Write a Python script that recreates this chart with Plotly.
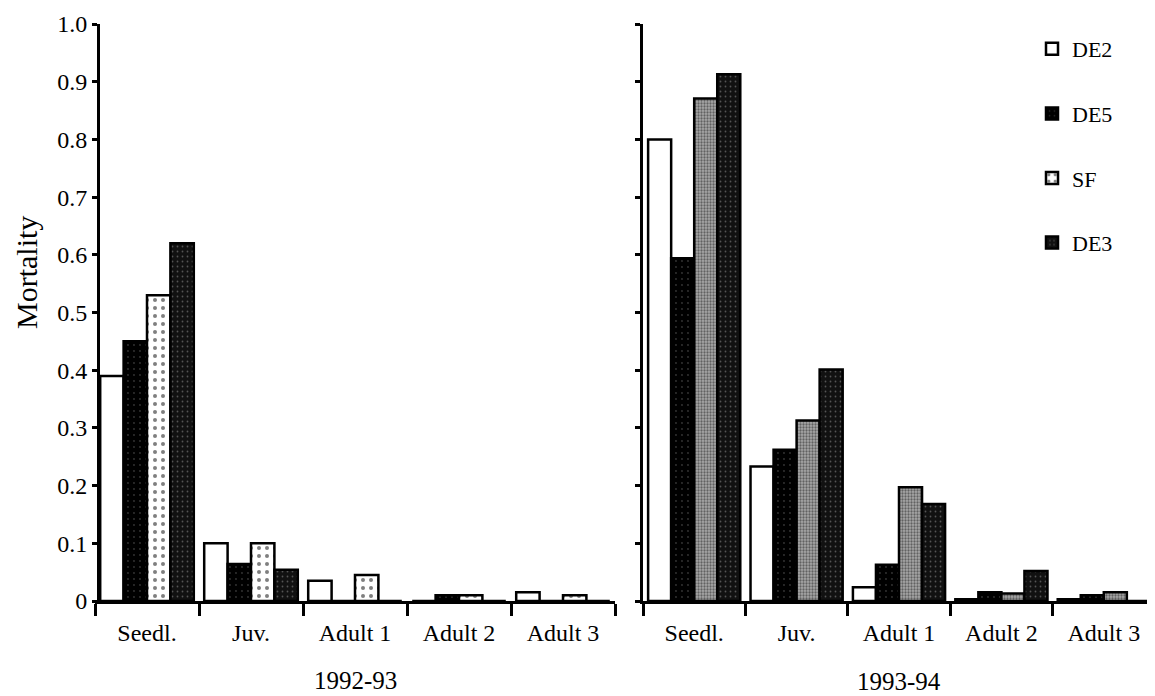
import plotly.graph_objects as go

# ---------------- data ----------------
stages = ["Seedl.", "Juv.", "Adult 1", "Adult 2", "Adult 3"]
series_names = ["DE2", "DE5", "SF", "DE3"]

# 1992-93
de2_9293 = [0.39, 0.10, 0.035, 0.0, 0.015]
de5_9293 = [0.45, 0.064, 0.0, 0.01, 0.0]
sf_9293 = [0.53, 0.10, 0.045, 0.01, 0.01]
de3_9293 = [0.62, 0.054, 0.0, 0.0, 0.0]

# 1993-94
de2_9394 = [0.80, 0.233, 0.024, 0.003, 0.003]
de5_9394 = [0.594, 0.262, 0.063, 0.015, 0.01]
sf_9394 = [0.871, 0.313, 0.197, 0.013, 0.015]
de3_9394 = [0.913, 0.401, 0.168, 0.052, 0.0]

y_tickvals = [0, 0.1, 0.2, 0.3, 0.4, 0.5, 0.6, 0.7, 0.8, 0.9, 1.0]
y_ticktext = ["0", "0.1", "0.2", "0.3", "0.4", "0.5", "0.6", "0.7", "0.8", "0.9", "1.0"]

period_labels = ["1992-93", "1993-94"]
y_title = "Mortality"

# ---------------- layout helpers ----------------
# the page body has an 8px margin, so the figure is drawn 8px in from the window edge
OFF = 8
W, H = 1155 - OFF, 696 - OFF
FONT = "Liberation Serif"


def fx(p):
    return (p - OFF) / W


def fy(p):
    return 1 - (p - OFF) / H


left_dom = [fx(95), fx(615)]
right_dom = [fx(643), 1.0]
y_dom = [fy(601), fy(24)]

line = dict(color="black", width=2.5)

styles_left = {
    "DE2": dict(color="white", line=line),
    "DE5": dict(color="black", line=line,
                pattern=dict(shape=".", fgcolor="#666666", bgcolor="black", size=6, solidity=0.08)),
    "SF": dict(color="white", line=line,
               pattern=dict(shape=".", fgcolor="black", bgcolor="white", size=8, solidity=0.2)),
    "DE3": dict(color="#111111", line=line,
                pattern=dict(shape=".", fgcolor="#9a9a9a", bgcolor="#111111", size=5, solidity=0.1)),
}
styles_right = dict(styles_left)
styles_right["SF"] = dict(color="#888888", line=line,
                          pattern=dict(shape=".", fgcolor="#1a1a1a", bgcolor="#a8a8a8", size=3, solidity=0.45))

left_vals = {"DE2": de2_9293, "DE5": de5_9293, "SF": sf_9293, "DE3": de3_9293}
right_vals = {"DE2": de2_9394, "DE5": de5_9394, "SF": sf_9394, "DE3": de3_9394}

fig = go.Figure()
for name in series_names:
    fig.add_trace(go.Bar(
        x=stages, y=left_vals[name], name=name, legendgroup=name,
        marker=styles_left[name], xaxis="x", yaxis="y", showlegend=True,
    ))
for name in series_names:
    fig.add_trace(go.Bar(
        x=stages, y=right_vals[name], name=name, legendgroup=name,
        marker=styles_right[name], xaxis="x2", yaxis="y2", showlegend=False,
    ))

xaxis_common = dict(
    type="category", showline=True, linewidth=3, linecolor="black",
    ticks="outside", ticklen=12, tickwidth=2.5, tickcolor="black",
    tickson="boundaries", showgrid=False, zeroline=False,
    tickfont=dict(family=FONT, size=24, color="black"),
    automargin=False, ticklabelstandoff=8,
    range=[-0.5, 4.5],
)
yaxis_common = dict(
    range=[0, 1.0], domain=y_dom, showline=True, linewidth=3, linecolor="black",
    ticks="outside", ticklen=5, tickwidth=2.5, tickcolor="black",
    tickvals=y_tickvals, showgrid=False, zeroline=False, automargin=False,
)

fig.update_layout(
    width=W, height=H,
    margin=dict(l=0, r=0, t=0, b=0),
    paper_bgcolor="white", plot_bgcolor="white",
    barmode="group", bargap=0.1, bargroupgap=0.0,
    font=dict(family=FONT, color="black"),
    xaxis=dict(domain=left_dom, anchor="y", **xaxis_common),
    xaxis2=dict(domain=right_dom, anchor="y2", **xaxis_common),
    yaxis=dict(anchor="free", position=fx(98), ticktext=y_ticktext,
               tickfont=dict(family=FONT, size=24, color="black"), **yaxis_common),
    yaxis2=dict(anchor="x2", showticklabels=False, **yaxis_common),
    legend=dict(
        x=fx(1032), y=fy(28), xanchor="left", yanchor="top",
        font=dict(family=FONT, size=22, color="black"),
        traceorder="grouped", tracegroupgap=33,
        bgcolor="rgba(0,0,0,0)",
    ),
    annotations=[
        dict(text=y_title, x=fx(26), y=fy(273), xref="paper", yref="paper",
             xanchor="center", yanchor="middle",
             textangle=-90, showarrow=False, font=dict(family=FONT, size=30, color="black")),
        dict(text=period_labels[0], x=(left_dom[0] + left_dom[1]) / 2, y=fy(680),
             xref="paper", yref="paper", xanchor="center", yanchor="middle", showarrow=False,
             font=dict(family=FONT, size=25, color="black")),
        dict(text=period_labels[1], x=(right_dom[0] + right_dom[1]) / 2, y=fy(681),
             xref="paper", yref="paper", xanchor="center", yanchor="middle", showarrow=False,
             font=dict(family=FONT, size=25, color="black")),
    ],
)

fig.write_html("out.html")
